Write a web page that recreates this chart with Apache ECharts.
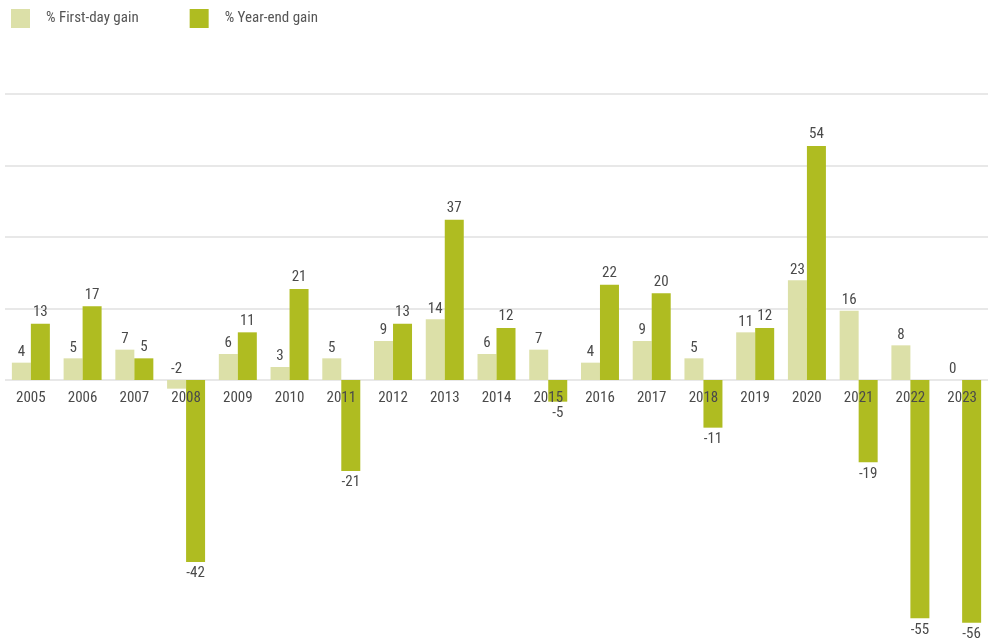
<!DOCTYPE html>
<html>
<head>
<meta charset="utf-8">
<script src="https://cdn.jsdelivr.net/npm/echarts@6/dist/echarts.min.js"></script>
<style>
html,body{margin:0;padding:0;background:#fff;}
#chart{width:992px;height:639px;}
</style>
</head>
<body>
<div id="chart"></div>
<script>
const years = ['2005','2006','2007','2008','2009','2010','2011','2012','2013','2014','2015','2016','2017','2018','2019','2020','2021','2022','2023'];
const firstDay = [4,5,7,-2,6,3,5,9,14,6,7,4,9,5,11,23,16,8,0];
const yearEnd = [13,17,5,-42,11,21,-21,13,37,12,-5,22,20,-11,12,54,-19,-55,-56];
const gridValues = [0,16.5,33,49.5,66];
const Y_MIN = -60, Y_MAX = 66;

const FONT = "'Liberation Sans Narrow','Roboto Condensed','Arial Narrow',Roboto,sans-serif";
const TXT = '#4a4a4a';
const chart = echarts.init(document.getElementById('chart'));
chart.setOption({
  animation:false,
  textStyle:{fontFamily:FONT},
  legend:{
    left:11, top:9, padding:0, itemWidth:19, itemHeight:19, itemGap:51,
    icon:'rect',
    textStyle:{fontFamily:FONT, fontSize:15, color:'#555', padding:[0,0,0,11]},
    data:['% First-day gain','% Year-end gain']
  },
  grid:{left:5, right:4, top:94, height:546, containLabel:false, outerBoundsMode:'none'},
  xAxis:{
    type:'category', data:years, z:10,
    axisLine:{show:false}, axisTick:{show:false},
    axisLabel:{show:true, fontFamily:FONT, fontSize:15, color:TXT, margin:11, interval:0}
  },
  yAxis:{type:'value', min:Y_MIN, max:Y_MAX, show:false, splitLine:{show:false}},
  series:[
    {
      name:'% First-day gain', type:'bar', barWidth:19, barGap:'0%',
      itemStyle:{color:'#dce0a8'},
      data:firstDay,
      label:{show:true, position:'top', distance:3, fontFamily:FONT, fontSize:15, color:TXT},
      markLine:{
        silent:true, symbol:'none', z:1,
        label:{show:false},
        lineStyle:{color:'#e8e8e8', width:2, type:'solid'},
        data:gridValues.map(v=>({yAxis:v}))
      },
      z:3
    },
    {
      name:'% Year-end gain', type:'bar', barWidth:19, barGap:'0%',
      itemStyle:{color:'#afbc21'},
      data:yearEnd.map(v=>({value:v, label:{position: v<0?'bottom':'top'}})),
      label:{show:true, distance:4, fontFamily:FONT, fontSize:15, color:TXT},
      z:3
    }
  ]
});
// move the category labels up to the zero line, using the library's own scale
const zeroY = chart.convertToPixel({yAxisIndex:0}, 0);
const bottomY = chart.convertToPixel({yAxisIndex:0}, Y_MIN);
chart.setOption({xAxis:{offset: zeroY - bottomY}});
</script>
</body>
</html>
